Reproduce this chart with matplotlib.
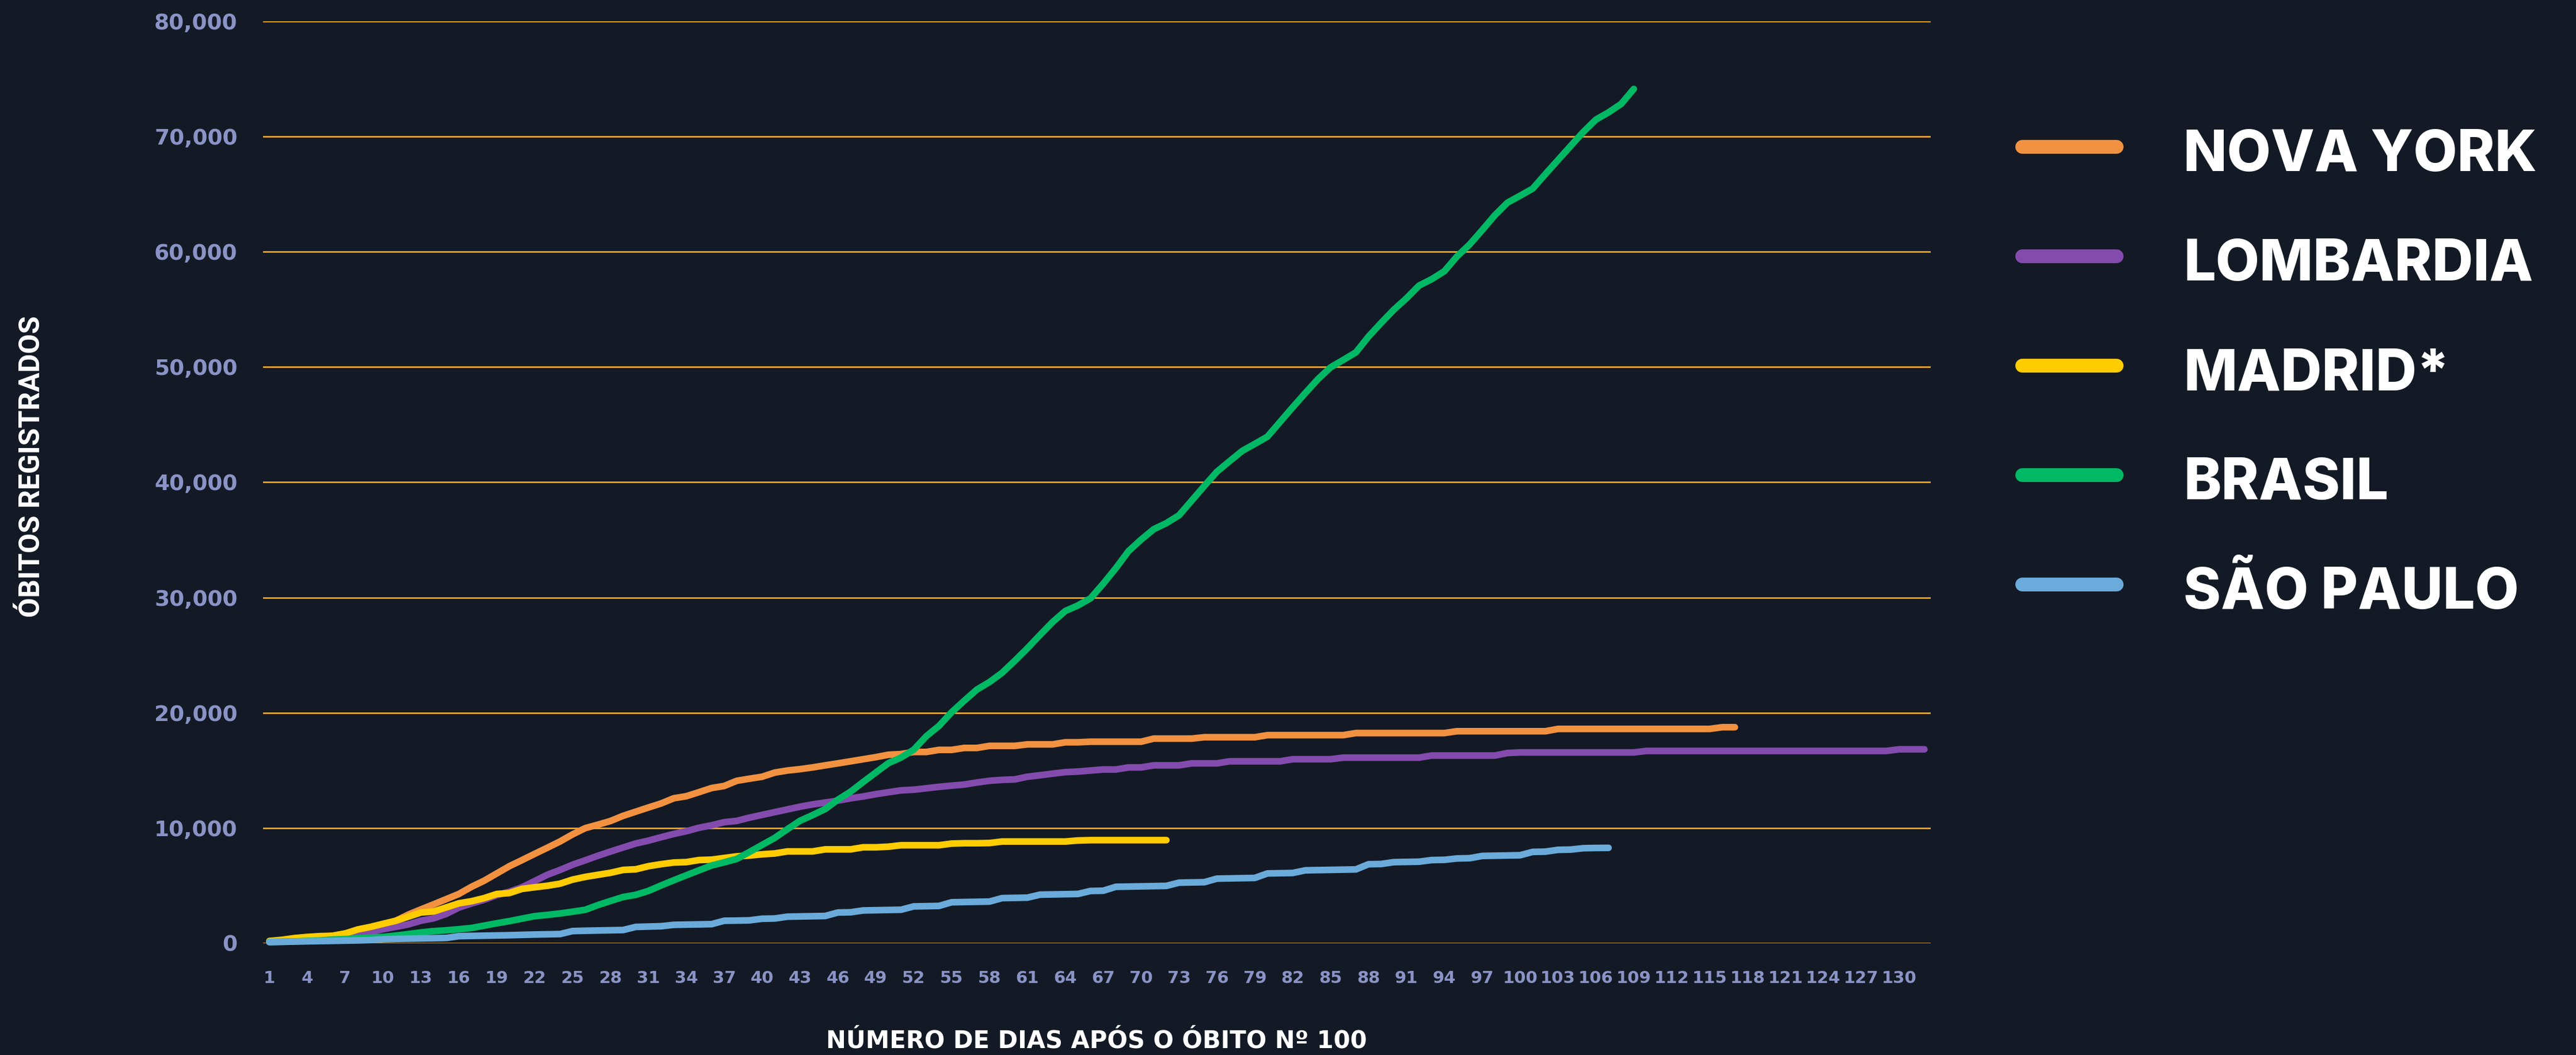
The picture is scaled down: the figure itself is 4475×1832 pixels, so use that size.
import matplotlib
matplotlib.use('Agg')
from matplotlib import pyplot as plt
from matplotlib.lines import Line2D
from matplotlib.ticker import FuncFormatter
import numpy as np

# cumulative deaths, day 1 = day of the 100th death
nova_york = [120, 180, 260, 370, 500, 650, 840, 1050, 1300, 1600,
             1950, 2490, 2940, 3380, 3830, 4280, 4900, 5430, 6060, 6690,
             7220, 7760, 8290, 8830, 9450, 9990, 10290, 10610, 11060, 11420,
             11780, 12130, 12580, 12760, 13110, 13470, 13650, 14100, 14280, 14450,
             14810, 14990, 15110, 15260, 15440, 15610, 15790, 15970, 16150, 16360,
             16420, 16600, 16600, 16780, 16780, 16950, 16950, 17130, 17130, 17130,
             17260, 17260, 17260, 17440, 17440, 17490, 17490, 17490, 17490, 17490,
             17760, 17760, 17760, 17760, 17880, 17880, 17880, 17880, 17880, 18060,
             18060, 18060, 18060, 18060, 18060, 18060, 18240, 18240, 18240, 18240,
             18240, 18240, 18240, 18240, 18400, 18400, 18400, 18400, 18400, 18400,
             18400, 18400, 18600, 18600, 18600, 18600, 18600, 18600, 18600, 18600,
             18600, 18600, 18600, 18600, 18600, 18750, 18750]

lombardia = [135, 154, 267, 333, 468, 617, 744, 890, 966, 1218,
             1420, 1640, 1959, 2168, 2549, 3095, 3456, 3776, 4178, 4474,
             4861, 5402, 5944, 6360, 6818, 7199, 7593, 7960, 8311, 8656,
             8905, 9202, 9484, 9722, 10022, 10238, 10511, 10621, 10901, 11142,
             11377, 11608, 11851, 12050, 12213, 12376, 12579, 12740, 12940, 13106,
             13269, 13325, 13449, 13575, 13679, 13772, 13950, 14100, 14180, 14220,
             14450, 14580, 14720, 14850, 14900, 14990, 15080, 15080, 15260, 15260,
             15440, 15440, 15440, 15610, 15610, 15610, 15790, 15790, 15790, 15790,
             15790, 15970, 15970, 15970, 15970, 16110, 16110, 16110, 16110, 16110,
             16110, 16110, 16290, 16290, 16290, 16290, 16290, 16290, 16510, 16560,
             16560, 16560, 16560, 16560, 16560, 16560, 16560, 16560, 16560, 16690,
             16690, 16690, 16690, 16690, 16690, 16690, 16690, 16690, 16690, 16690,
             16690, 16690, 16690, 16690, 16690, 16690, 16690, 16690, 16690, 16830,
             16830, 16830]

madrid = [200, 300, 450, 550, 620, 650, 850, 1200, 1420, 1690, 1950, 2310,
          2670, 2760, 3110, 3470, 3650, 3920, 4275, 4360, 4720, 4860, 4990, 5170,
          5525, 5760, 5940, 6115, 6365, 6420, 6686, 6865, 7007,
          7043, 7221, 7257, 7400, 7543, 7614, 7721, 7793, 7971, 7971, 7971, 8150,
          8150, 8150, 8329, 8329, 8382, 8507, 8507, 8507, 8507, 8650, 8680, 8680,
          8700, 8830, 8830, 8830, 8830, 8830, 8830, 8920, 8950, 8950, 8950, 8950,
          8950, 8950, 8950]

brasil = [114, 136, 159, 201, 240, 324, 359, 445, 486, 553,
          667, 800, 941, 1056, 1124, 1223, 1328, 1532, 1736, 1924,
          2141, 2354, 2462, 2587, 2741, 2906, 3313, 3670, 4016, 4205,
          4543, 5017, 5466, 5901, 6329, 6750, 7025, 7321, 7921, 8536,
          9146, 9897, 10627, 11123, 11653, 12461, 13149, 13993, 14817, 15633,
          16118, 16792, 17971, 18859, 20047, 21048, 22013, 22666, 23473, 24512,
          25598, 26754, 27878, 28834, 29314, 29937, 31199, 32548, 34021, 35026,
          35930, 36455, 37134, 38406, 39680, 40919, 41828, 42720, 43332, 43959,
          45241, 46510, 47748, 48954, 49976, 50617, 51271, 52645, 53830, 54971,
          55961, 57070, 57622, 58314, 59594, 60632, 61884, 63174, 64265, 64867,
          65487, 66741, 67964, 69184, 70398, 71469, 72100, 72833, 74133]

sao_paulo = [100, 120, 150, 170, 190, 210, 230, 250, 280,
             350, 380, 400, 420, 440, 460,
             620, 640, 660, 680,
             700, 730, 760, 780, 800,
             1060, 1090, 1110, 1130, 1150,
             1420, 1450, 1480,
             1600, 1620, 1640, 1660,
             1955, 1970, 1990,
             2130, 2150,
             2310, 2330, 2350, 2370,
             2670, 2690,
             2850, 2870, 2890, 2910,
             3200, 3220, 3240,
             3560, 3580, 3600, 3620,
             3920, 3940, 3960,
             4220, 4240, 4260, 4280,
             4540, 4560,
             4900, 4920, 4940, 4960, 4980,
             5260, 5280, 5300,
             5610, 5630, 5650, 5670,
             6060, 6080, 6100,
             6330, 6350, 6370, 6390, 6410,
             6860, 6880,
             7040, 7060, 7080,
             7220, 7240,
             7360, 7380,
             7580, 7600, 7620, 7640,
             7930, 7950,
             8110, 8130,
             8250, 8270, 8280]

series = [nova_york, lombardia, madrid, brasil, sao_paulo]
names = ['NOVA YORK', 'LOMBARDIA', 'MADRID*', 'BRASIL', 'SÃO PAULO']
colors = ['#f29240', '#844bae', '#ffcc00', '#00b964', '#6aabdb']

y_ticks = [0, 10000, 20000, 30000, 40000, 50000, 60000, 70000, 80000]
x_ticks = list(range(1, 131, 3))

BG = '#131a25'
GRID = '#f5aa28'
TICK = '#8a93c5'

plt.rcParams['font.family'] = ['DejaVu Sans']
plt.rcParams['font.weight'] = 'bold'

W, H = 4475, 1832
fig = plt.figure(figsize=(W / 100, H / 100), dpi=100, facecolor=BG)
ax = fig.add_axes([457 / W, 1 - 1638 / H, (3354 - 457) / W, (1638 - 37) / H])
ax.set_facecolor(BG)

for vals, color in zip(series, colors):
    days = np.arange(1, len(vals) + 1)
    ax.plot(days, vals, color=color, lw=8.3, solid_capstyle='round',
            solid_joinstyle='round', clip_on=False)

ax.set_xlim(0.5, 132.5)
ax.set_ylim(0, 80000)
ax.set_yticks(y_ticks)
ax.set_xticks(x_ticks)
ax.yaxis.set_major_formatter(FuncFormatter(lambda v, p: f'{int(v):,}'))
ax.grid(axis='y', color=GRID, lw=1.9)
ax.grid(axis='x', visible=False)
ax.set_axisbelow(True)
for s in ax.spines.values():
    s.set_visible(False)
ax.tick_params(axis='y', length=0, labelsize=27, labelcolor=TICK, pad=32)
ax.tick_params(axis='x', length=0, labelsize=21, labelcolor=TICK, pad=34)

fig.text(56 / W, 1 - 810 / H, 'ÓBITOS REGISTRADOS', rotation=90, ha='center',
         va='center', color='white', fontsize=36, fontweight='bold',
         family=['Roboto', 'DejaVu Sans'])
fig.text(1905 / W, 1 - 1808 / H, 'NÚMERO DE DIAS APÓS O ÓBITO Nº 100',
         ha='center', va='center', color='white', fontsize=30, fontweight='bold')

# legend drawn by hand on the right
for i, (name, color) in enumerate(zip(names, colors)):
    yc = 1 - (255 + i * 190) / H
    fig.add_artist(Line2D([3513 / W, 3677 / W], [yc, yc], transform=fig.transFigure,
                          color=color, lw=17.3, solid_capstyle='round'))
    fig.text(3793 / W, 1 - (297 + i * 190) / H, name, ha='left', va='baseline',
             color='white', fontsize=71, fontweight='heavy',
             family=['Inter', 'DejaVu Sans'])

fig.savefig('out.png', dpi=100, facecolor=BG)
